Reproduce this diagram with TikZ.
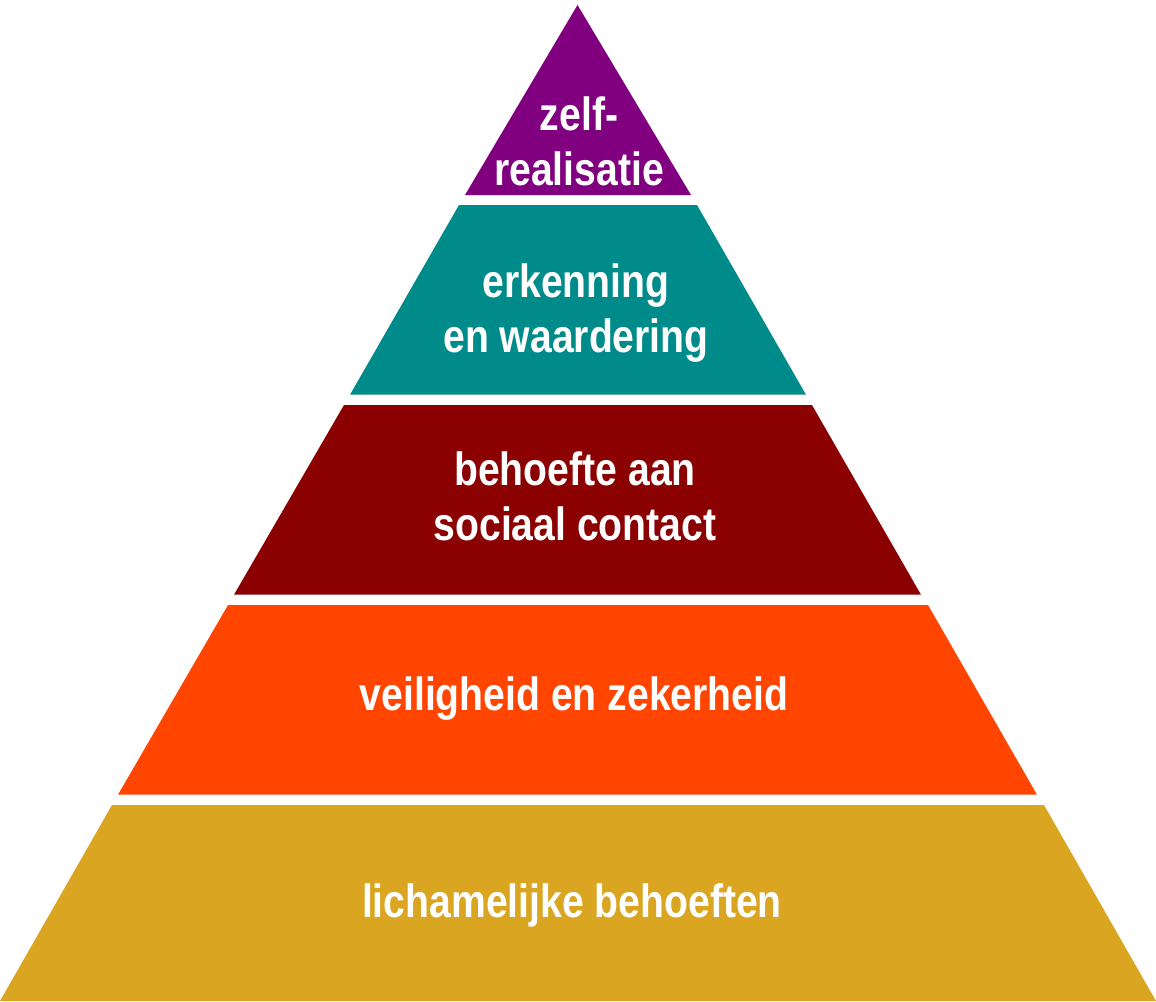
\documentclass[tikz,border=0pt]{standalone}
\usepackage{fontspec}
\setmainfont{Liberation Sans}[FakeStretch=0.84]
\usepackage{tikz}

\definecolor{selfcol}{HTML}{800080}
\definecolor{esteemcol}{HTML}{008B8B}
\definecolor{socialcol}{HTML}{8B0000}
\definecolor{safetycol}{HTML}{FF4500}
\definecolor{bodycol}{HTML}{DAA520}

\begin{document}
\begin{tikzpicture}[x=1pt,y=-1pt]
       \tikzstyle{layer}=[draw=none]
       \tikzstyle{every node}=[text=white,align=center,inner sep=0pt,
         font=\bfseries\fontsize{46.6}{55}\selectfont]

       \useasboundingbox (0,0) rectangle (1156,1001);

       % layers, top to bottom
       \fill[layer,selfcol]   (577.5,5) -- (691,195) -- (465,195) -- cycle;
       \fill[layer,esteemcol] (459,205) -- (697,205) -- (806,394.7) -- (350,394.7) -- cycle;
       \fill[layer,socialcol] (344,405) -- (812,405) -- (921,594.7) -- (234,594.7) -- cycle;
       \fill[layer,safetycol] (228,605) -- (928,605) -- (1037,794.7) -- (118,794.7) -- cycle;
       \fill[layer,bodycol]   (112,805) -- (1044,805) -- (1156,1001) -- (0,1001) -- cycle;

       \node (self)   at (579,141.5) {zelf-\\realisatie};
       \node (esteem) at (576,313.5) {erkenning\\en waardering};
       \node (social) at (575,496.5) {behoefte aan\\sociaal contact};
       \node (safety) at (574,698.5) {veiligheid en zekerheid};
       \node (body)   at (572,905)   {lichamelijke behoeften};
     \end{tikzpicture}
\end{document}
